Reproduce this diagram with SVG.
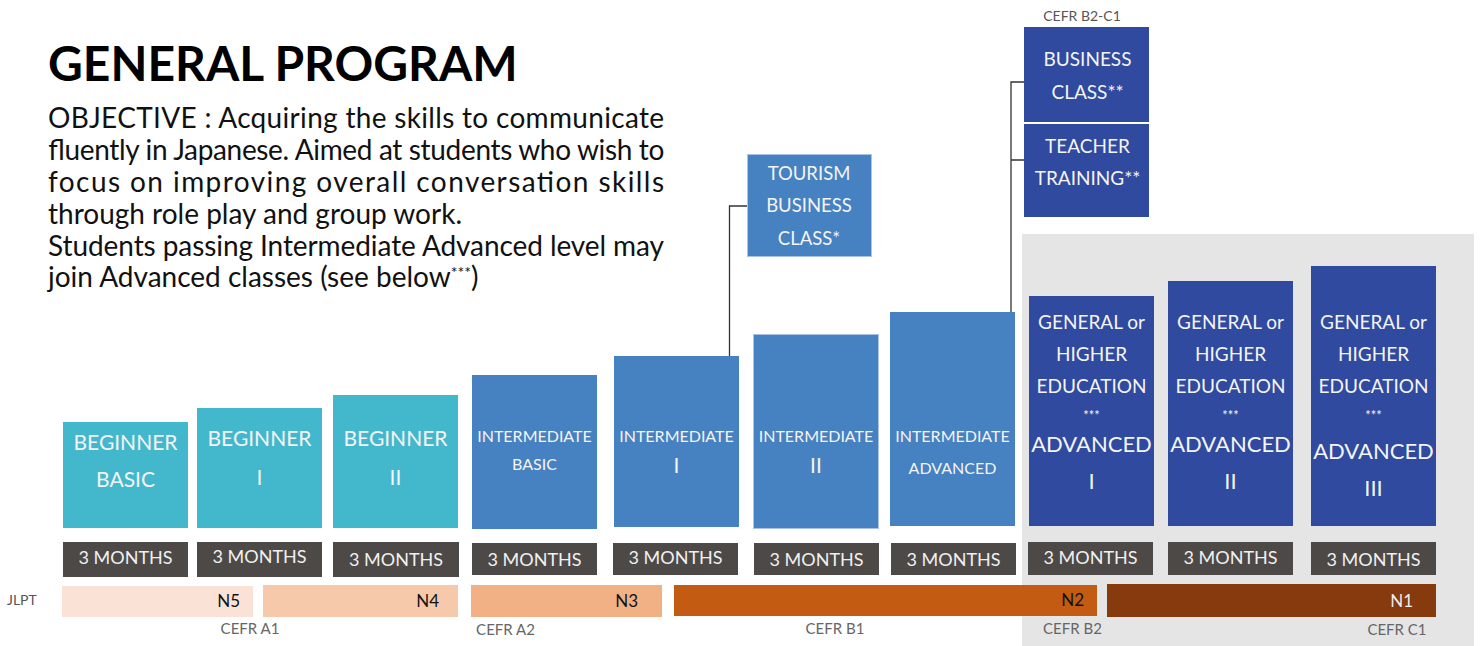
<svg xmlns="http://www.w3.org/2000/svg" width="1480" height="646" viewBox="0 0 1480 646">
<style>
.t{font-family:Lato,"Liberation Sans",sans-serif}
.title{font-family:Lato,"Liberation Sans",sans-serif;font-weight:700;font-size:48px;fill:#000}
.obj{font-family:Lato,"Liberation Sans",sans-serif;font-size:28px;fill:#111}
.w{font-family:Lato,"Liberation Sans",sans-serif;fill:#f4f4f4;text-anchor:middle}
.mo{font-family:Lato,"Liberation Sans",sans-serif;fill:#f0f0f0;text-anchor:middle;font-size:18px}
.cefr{font-family:Lato,"Liberation Sans",sans-serif;fill:#666;font-size:15px;text-anchor:middle}
.nl{font-family:Lato,"Liberation Sans",sans-serif;font-size:17px;text-anchor:end}
.beg{fill:#43B8CD}
.int{fill:#4681C1}
.adv{fill:#2F4A9E}
.mon{fill:#4D4947}
.conn{fill:none;stroke:#333;stroke-width:1.3}
</style>
<rect width="1480" height="646" fill="#fff"/>
<rect id="advanced-bg" x="1022" y="234" width="452" height="412" fill="#E5E5E5"/>

<g id="header">
<text class="title" x="48" y="81">GENERAL PROGRAM</text>
<text class="obj" x="48" y="128" textLength="616" lengthAdjust="spacing">OBJECTIVE : Acquiring the skills to communicate</text>
<text class="obj" x="48" y="160" textLength="616" lengthAdjust="spacing">fluently in Japanese. Aimed at students who wish to</text>
<text class="obj" x="48" y="192" textLength="616" lengthAdjust="spacing">focus on improving overall conversation skills</text>
<text class="obj" x="48" y="224">through role play and group work.</text>
<text class="obj" x="48" y="256" textLength="616" lengthAdjust="spacing">Students passing Intermediate Advanced level may</text>
<text class="obj" x="48" y="287">join Advanced classes (see below<tspan font-size="16" dy="-9">***</tspan><tspan dy="9">)</tspan></text>
</g>

<g id="connectors">
<path class="conn" d="M729.5 356 V206 H747"/>
<path class="conn" d="M1011 312 V82 H1024 M1011 160 H1024"/>
</g>

<g id="beginner-basic">
<rect class="beg" x="63" y="422" width="125" height="106"/>
<text class="w" x="125.5" y="450" font-size="21">BEGINNER</text>
<text class="w" x="125.5" y="487" font-size="21">BASIC</text>
</g>
<g id="beginner-1">
<rect class="beg" x="197" y="408" width="125" height="120"/>
<text class="w" x="259.5" y="446" font-size="21">BEGINNER</text>
<text class="w" x="259.5" y="485" font-size="21">I</text>
</g>
<g id="beginner-2">
<rect class="beg" x="333" y="395" width="125" height="133"/>
<text class="w" x="395.5" y="446" font-size="21">BEGINNER</text>
<text class="w" x="395.5" y="485" font-size="21">II</text>
</g>

<g id="intermediate-basic">
<rect class="int" x="472" y="375" width="125" height="154"/>
<text class="w" x="534.5" y="442" font-size="16">INTERMEDIATE</text>
<text class="w" x="534.5" y="470" font-size="16">BASIC</text>
</g>
<g id="intermediate-1">
<rect class="int" x="614" y="356" width="125" height="171"/>
<text class="w" x="676.5" y="442" font-size="16">INTERMEDIATE</text>
<text class="w" x="676.5" y="473" font-size="21">I</text>
</g>
<g id="intermediate-2">
<rect class="int" x="753.5" y="334.5" width="125" height="194" stroke="#A8C3E6" stroke-width="1"/>
<text class="w" x="816" y="442" font-size="16">INTERMEDIATE</text>
<text class="w" x="816" y="473" font-size="21">II</text>
</g>
<g id="intermediate-advanced">
<rect class="int" x="890" y="312" width="125" height="214"/>
<text class="w" x="952.5" y="442" font-size="16">INTERMEDIATE</text>
<text class="w" x="952.5" y="474" font-size="16">ADVANCED</text>
</g>

<g id="tourism-business-class">
<rect class="int" x="747.5" y="154.5" width="124" height="102" stroke="#A8C3E6" stroke-width="1"/>
<text class="w" x="809" y="180" font-size="18.5">TOURISM</text>
<text class="w" x="809" y="212" font-size="18.5">BUSINESS</text>
<text class="w" x="809" y="245" font-size="18.5">CLASS*</text>
</g>

<g id="business-class">
<text class="t" x="1082" y="21" font-size="14" fill="#555" text-anchor="middle">CEFR B2-C1</text>
<rect class="adv" x="1024" y="27" width="125" height="95"/>
<text class="w" x="1087.5" y="66" font-size="19">BUSINESS</text>
<text class="w" x="1087.5" y="99" font-size="19">CLASS**</text>
</g>
<g id="teacher-training">
<rect class="adv" x="1024" y="124" width="125" height="93"/>
<text class="w" x="1087.5" y="153" font-size="19">TEACHER</text>
<text class="w" x="1087.5" y="185" font-size="19">TRAINING**</text>
</g>

<g id="advanced-1">
<rect class="adv" x="1029" y="296" width="125" height="230"/>
<text class="w" x="1091.5" y="329" font-size="19">GENERAL or</text>
<text class="w" x="1091.5" y="361" font-size="19">HIGHER</text>
<text class="w" x="1091.5" y="393" font-size="19">EDUCATION</text>
<text class="w" x="1091.5" y="420" font-size="13">***</text>
<text class="w" x="1091.5" y="452" font-size="22">ADVANCED</text>
<text class="w" x="1091.5" y="489" font-size="22">I</text>
</g>
<g id="advanced-2">
<rect class="adv" x="1168" y="281" width="125" height="245"/>
<text class="w" x="1230.5" y="329" font-size="19">GENERAL or</text>
<text class="w" x="1230.5" y="361" font-size="19">HIGHER</text>
<text class="w" x="1230.5" y="393" font-size="19">EDUCATION</text>
<text class="w" x="1230.5" y="420" font-size="13">***</text>
<text class="w" x="1230.5" y="452" font-size="22">ADVANCED</text>
<text class="w" x="1230.5" y="489" font-size="22">II</text>
</g>
<g id="advanced-3">
<rect class="adv" x="1311" y="266" width="125" height="260"/>
<text class="w" x="1373.5" y="329" font-size="19">GENERAL or</text>
<text class="w" x="1373.5" y="361" font-size="19">HIGHER</text>
<text class="w" x="1373.5" y="393" font-size="19">EDUCATION</text>
<text class="w" x="1373.5" y="420" font-size="13">***</text>
<text class="w" x="1373.5" y="459" font-size="22">ADVANCED</text>
<text class="w" x="1373.5" y="496" font-size="22">III</text>
</g>

<g id="durations">
<rect class="mon" x="63" y="542" width="125" height="35"/><text class="mo" x="125.5" y="564">3 MONTHS</text>
<rect class="mon" x="197" y="542" width="125" height="35"/><text class="mo" x="259.5" y="563">3 MONTHS</text>
<rect class="mon" x="333" y="542" width="126" height="35"/><text class="mo" x="396" y="566">3 MONTHS</text>
<rect class="mon" x="472" y="543" width="125" height="32"/><text class="mo" x="534.5" y="566">3 MONTHS</text>
<rect class="mon" x="613" y="543" width="125" height="32"/><text class="mo" x="675.5" y="564">3 MONTHS</text>
<rect class="mon" x="754" y="543" width="125" height="32"/><text class="mo" x="816.5" y="566">3 MONTHS</text>
<rect class="mon" x="891" y="543" width="125" height="32"/><text class="mo" x="953.5" y="566">3 MONTHS</text>
<rect class="mon" x="1028" y="542" width="125" height="33"/><text class="mo" x="1090.5" y="564">3 MONTHS</text>
<rect class="mon" x="1168" y="542" width="125" height="33"/><text class="mo" x="1230.5" y="564">3 MONTHS</text>
<rect class="mon" x="1311" y="542" width="125" height="33"/><text class="mo" x="1373.5" y="566">3 MONTHS</text>
</g>

<g id="jlpt">
<text class="t" x="7" y="605" font-size="14" fill="#555">JLPT</text>
<rect x="62" y="586" width="191" height="31" fill="#FAE3D6"/>
<text class="nl" x="240" y="607" fill="#111">N5</text>
<rect x="263" y="585" width="195" height="32" fill="#F6C9AB"/>
<text class="nl" x="439" y="607" fill="#111">N4</text>
<rect x="471" y="585" width="191" height="32" fill="#F2B085"/>
<text class="nl" x="638" y="607" fill="#111">N3</text>
<rect x="674" y="585" width="423" height="31" fill="#C45B13"/>
<text class="nl" x="1084" y="606" fill="#111">N2</text>
<rect x="1107" y="584" width="329" height="33" fill="#863A0D"/>
<text class="nl" x="1413" y="607" fill="#eee">N1</text>
</g>

<g id="cefr">
<text class="cefr" x="250" y="634">CEFR A1</text>
<text class="cefr" x="505.5" y="635">CEFR A2</text>
<text class="cefr" x="835" y="634">CEFR B1</text>
<text class="cefr" x="1072.5" y="634">CEFR B2</text>
<text class="cefr" x="1397" y="635">CEFR C1</text>
</g>
</svg>
